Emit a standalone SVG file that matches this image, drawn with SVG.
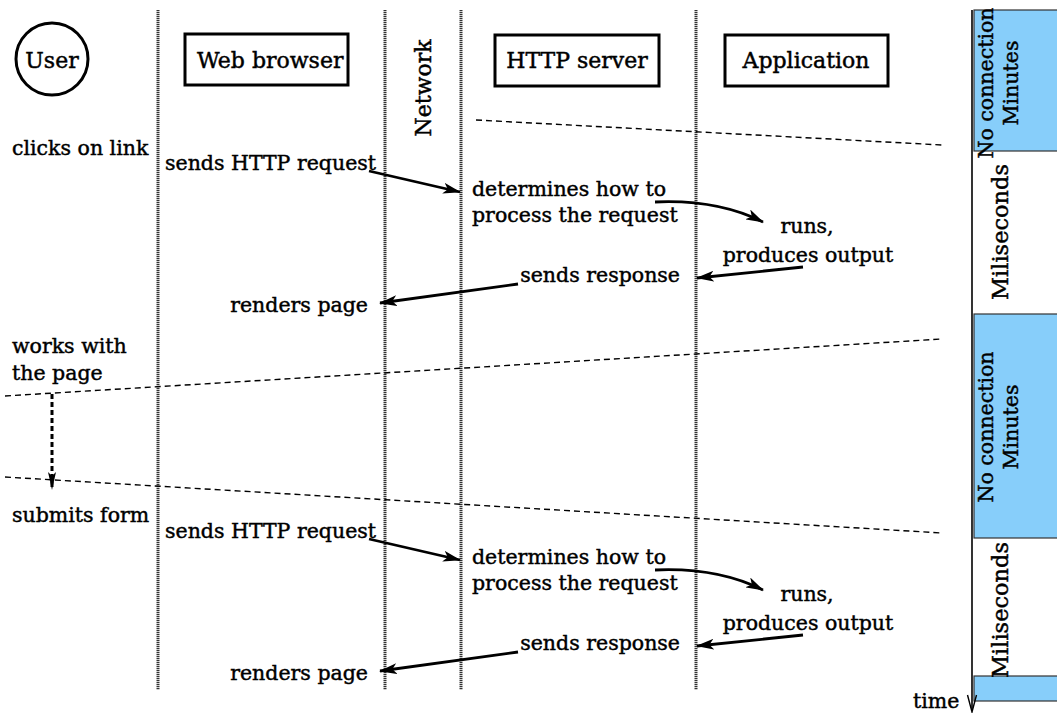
<svg xmlns="http://www.w3.org/2000/svg" width="1057" height="713" viewBox="0 0 1057 713">
  <style>
    text { font-family: "DejaVu Serif", "Liberation Serif", serif; fill: #000; stroke: #000; stroke-width: 0.45; }
    .hd { font-size: 22px; }
    .tx { font-size: 20.5px; }
    .vt { font-size: 20.5px; }
    .vm { font-size: 22.5px; }
    .box { fill: #fff; stroke: #000; stroke-width: 3; }
    .life { stroke: #333; stroke-width: 3; stroke-dasharray: 1.3 0.7; fill: none; }
    .sep { stroke: #000; stroke-width: 1.4; stroke-dasharray: 6 4; fill: none; }
    .msg { stroke: #000; stroke-width: 2.8; fill: none; marker-end: url(#barb); }
    .band { fill: #87cefa; stroke: #333; stroke-width: 1.2; }
  </style>
  <defs>
    <marker id="barb" markerUnits="userSpaceOnUse" markerWidth="18" markerHeight="11" viewBox="0 0 18 11" refX="17" refY="5.5" orient="auto">
      <path d="M0,0 L18,5.5 L0,11 L4.5,5.5 z" fill="#000"/>
    </marker>
    <marker id="barbTall" markerUnits="userSpaceOnUse" markerWidth="18" markerHeight="8" viewBox="0 0 18 8" refX="17" refY="4" orient="auto">
      <path d="M0,0 L18,4 L0,8 L4,4 z" fill="#000"/>
    </marker>
  </defs>

  <rect width="1057" height="713" fill="#fff"/>

  <!-- lifelines -->
  <g id="lifelines">
    <line class="life" x1="158" y1="10" x2="158" y2="690"/>
    <line class="life" x1="385" y1="10" x2="385" y2="690"/>
    <line class="life" x1="461" y1="10" x2="461" y2="690"/>
    <line class="life" x1="696" y1="10" x2="696" y2="690"/>
  </g>

  <!-- participants -->
  <g id="user">
    <circle cx="52" cy="59" r="36" fill="#fff" stroke="#000" stroke-width="3"/>
    <text class="hd" x="52" y="68" text-anchor="middle">User</text>
  </g>
  <g id="web-browser">
    <rect class="box" x="185" y="34" width="163" height="51"/>
    <text class="hd" x="197" y="68">Web browser</text>
  </g>
  <g id="network">
    <text class="hd" transform="translate(431,88) rotate(-90)" text-anchor="middle">Network</text>
  </g>
  <g id="http-server">
    <rect class="box" x="495" y="35" width="164" height="51"/>
    <text class="hd" x="577" y="68" text-anchor="middle">HTTP server</text>
  </g>
  <g id="application">
    <rect class="box" x="725" y="35" width="163" height="51"/>
    <text class="hd" x="806" y="68" text-anchor="middle">Application</text>
  </g>

  <!-- phase separators -->
  <g id="separators">
    <line class="sep" x1="476" y1="120" x2="942" y2="145"/>
    <line class="sep" x1="5" y1="396" x2="942" y2="339"/>
    <line class="sep" x1="5" y1="477" x2="942" y2="533"/>
  </g>

  <!-- time scale on the right -->
  <g id="timeline">
    <rect class="band" x="974" y="10" width="90" height="141"/>
    <rect class="band" x="974" y="314" width="90" height="224"/>
    <rect class="band" x="974" y="676" width="90" height="25"/>
    <line x1="972" y1="10" x2="972" y2="711" stroke="#000" stroke-width="1.6"/>
    <polyline points="967.5,695 972,712 976.5,695" fill="none" stroke="#000" stroke-width="1.4"/>
    <text class="tx" x="913" y="708">time</text>
    <text class="vt" transform="translate(993,83) rotate(-90)" text-anchor="middle">No connection</text>
    <text class="vt" transform="translate(1018,83) rotate(-90)" text-anchor="middle">Minutes</text>
    <text class="vm" transform="translate(1008,232) rotate(-90)" text-anchor="middle">Miliseconds</text>
    <text class="vt" transform="translate(993,427) rotate(-90)" text-anchor="middle">No connection</text>
    <text class="vt" transform="translate(1018,427) rotate(-90)" text-anchor="middle">Minutes</text>
    <text class="vm" transform="translate(1008,610) rotate(-90)" text-anchor="middle">Miliseconds</text>
  </g>

  <!-- actions, first request -->
  <g id="actions-1">
    <text class="tx" x="12" y="155">clicks on link</text>
    <text class="tx" x="165" y="170">sends HTTP request</text>
    <text class="tx" x="472" y="196">determines how to</text>
    <text class="tx" x="472" y="222">process the request</text>
    <text class="tx" x="807" y="233" text-anchor="middle">runs,</text>
    <text class="tx" x="808" y="262" text-anchor="middle">produces output</text>
    <text class="tx" x="680" y="282" text-anchor="end">sends response</text>
    <text class="tx" x="368" y="312" text-anchor="end">renders page</text>
  </g>

  <!-- user idle phase -->
  <g id="actions-idle">
    <text class="tx" x="12" y="353">works with</text>
    <text class="tx" x="12" y="380">the page</text>
    <text class="tx" x="12" y="522">submits form</text>
  </g>

  <!-- actions, second request -->
  <g id="actions-2">
    <text class="tx" x="165" y="538">sends HTTP request</text>
    <text class="tx" x="472" y="564">determines how to</text>
    <text class="tx" x="472" y="590">process the request</text>
    <text class="tx" x="807" y="601" text-anchor="middle">runs,</text>
    <text class="tx" x="808" y="630" text-anchor="middle">produces output</text>
    <text class="tx" x="680" y="650" text-anchor="end">sends response</text>
    <text class="tx" x="368" y="680" text-anchor="end">renders page</text>
  </g>

  <!-- connectors -->
  <g id="connectors">
    <path class="msg" d="M369,171 L460,192"/>
    <path class="msg" d="M655,202 C700,200 735,208 763,222"/>
    <path class="msg" d="M803,267 L697,278"/>
    <path class="msg" d="M518,284 L380,303"/>

    <path d="M52,394 L52,489" fill="none" stroke="#000" stroke-width="3" stroke-dasharray="5 3" marker-end="url(#barbTall)"/>

    <path class="msg" d="M369,539 L460,560"/>
    <path class="msg" d="M655,570 C700,568 735,576 763,590"/>
    <path class="msg" d="M803,635 L697,646"/>
    <path class="msg" d="M518,652 L380,671"/>
  </g>
</svg>
